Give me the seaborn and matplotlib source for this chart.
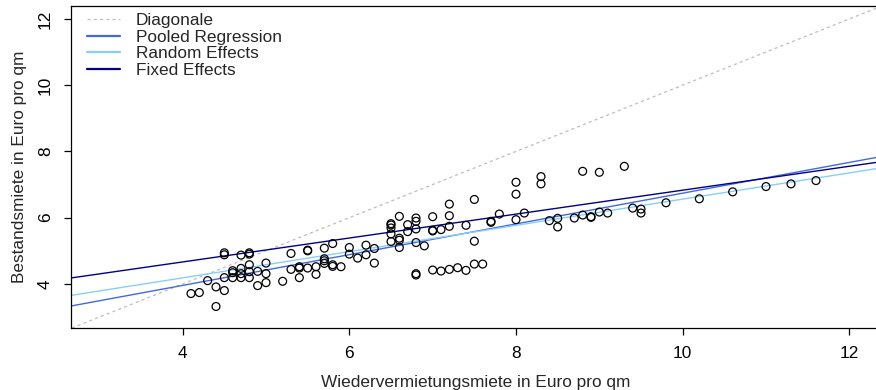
import matplotlib
matplotlib.use("Agg")
import matplotlib.pyplot as plt
import seaborn as sns
import pandas as pd
from matplotlib.lines import Line2D

# --- data -------------------------------------------------------------
wieder = [4.1, 4.2, 4.4, 4.3, 4.4, 4.5, 4.5, 4.5, 4.5,
          4.6, 4.6, 4.6, 4.7, 4.7, 4.7, 4.7,
          4.8, 4.8, 4.8, 4.8, 4.8,
          4.9, 4.9, 5.0, 5.0, 5.0,
          5.2, 5.3, 5.3, 5.4, 5.4, 5.4,
          5.5, 5.5, 5.5, 5.6, 5.6,
          5.7, 5.7, 5.7, 5.7, 5.8, 5.8, 5.8, 5.9,
          6.0, 6.0, 6.1, 6.2, 6.2, 6.3, 6.3,
          6.5, 6.5, 6.5, 6.5, 6.5,
          6.6, 6.6, 6.6, 6.6,
          6.7, 6.7,
          6.8, 6.8, 6.8, 6.8, 6.8, 6.8,
          6.9, 7.0, 7.0, 7.0, 7.0,
          7.1, 7.1, 7.2, 7.2, 7.2, 7.2,
          7.3, 7.4, 7.4, 7.5, 7.5, 7.5, 7.6,
          7.7, 7.7, 7.8, 8.0, 8.0, 8.0, 8.1,
          8.3, 8.3, 8.4, 8.5, 8.5, 8.7, 8.8, 8.8,
          8.9, 8.9, 9.0, 9.0, 9.1, 9.3, 9.4, 9.5, 9.5,
          9.8, 10.2, 10.6, 11.0, 11.3, 11.6]
bestand = [3.71, 3.74, 3.32, 4.10, 3.91, 3.80, 4.19, 4.88, 4.94,
           4.19, 4.34, 4.40, 4.19, 4.31, 4.47, 4.87,
           4.19, 4.37, 4.58, 4.90, 4.94,
           3.95, 4.38, 4.04, 4.31, 4.63,
           4.08, 4.92, 4.44, 4.48, 4.52, 4.19,
           5.00, 5.02, 4.48, 4.52, 4.29,
           5.08, 4.76, 4.70, 4.62, 5.22, 4.58, 4.53, 4.52,
           5.10, 4.90, 4.78, 5.17, 4.88, 5.07, 4.63,
           5.82, 5.78, 5.69, 5.51, 5.28,
           6.04, 5.38, 5.32, 5.10,
           5.79, 5.58,
           5.99, 5.89, 5.66, 5.25, 4.31, 4.27,
           5.15, 6.03, 5.62, 5.60, 4.42,
           5.64, 4.39, 6.41, 6.06, 5.74, 4.44,
           4.49, 5.77, 4.41, 6.55, 5.29, 4.60, 4.60,
           5.89, 5.86, 6.11, 7.07, 6.71, 5.94, 6.14,
           7.24, 7.02, 5.91, 5.98, 5.72, 5.99, 7.40, 6.08,
           6.01, 6.03, 7.37, 6.17, 6.14, 7.55, 6.29, 6.26, 6.14,
           6.45, 6.57, 6.78, 6.94, 7.02, 7.12]

model_names = ["Pooled Regression", "Random Effects", "Fixed Effects"]
intercepts = [2.10, 2.60, 3.22]
slopes = [0.464, 0.396, 0.361]
model_colors = ["#4169E1", "#87CEFA", "#00008B"]

x_ticks = [4, 6, 8, 10, 12]
y_ticks = [4, 6, 8, 10, 12]
x_label = "Wiedervermietungsmiete in Euro pro qm"
y_label = "Bestandsmiete in Euro pro qm"

# --- plot -------------------------------------------------------------
sns.set_theme(style="white")
plt.rcParams["font.family"] = ["Liberation Sans", "DejaVu Sans"]

FS = 12.4

fig = plt.figure(figsize=(8.76, 3.90), dpi=100)
W, H = 876, 390
ax = fig.add_axes([71 / W, (H - 328) / H, (881 - 71) / W, (328 - 6) / H])

df = pd.DataFrame({"x": wieder, "y": bestand})
sns.scatterplot(data=df, x="x", y="y", ax=ax, marker="o", s=32,
                facecolors="none", edgecolor="black", linewidth=0.9,
                zorder=3, legend=False)

ax.set_xlim(2.66, 12.38)
ax.set_ylim(2.67, 12.39)

ax.axline((0, 0), slope=1, color="#BEBEBE", lw=0.9,
          linestyle=(0, (2.5, 2.5)), zorder=1)
handles = [Line2D([], [], color="#BEBEBE", lw=0.9, linestyle=(0, (2.5, 2.5)))]
for name, a, b, c in zip(model_names, intercepts, slopes, model_colors):
    ax.axline((0, a), slope=b, color=c, lw=1.0, zorder=2)
    handles.append(Line2D([], [], color=c, lw=1.6))

labels = ["Diagonale"] + model_names
ax.legend(handles, labels, loc="upper left",
          bbox_to_anchor=(16 / 810, 1 - 7 / 322), frameon=False,
          fontsize=FS, borderpad=0, borderaxespad=0, labelspacing=0.09,
          handlelength=1.9, handletextpad=0.95)

ax.set_xticks(x_ticks)
ax.set_yticks(y_ticks)
ax.set_xticklabels([str(t) for t in x_ticks])
ax.set_yticklabels([str(t) for t in y_ticks], rotation=90, va="center")
ax.tick_params(axis="both", direction="out", length=5, width=0.9,
               color="black", labelsize=FS, labelcolor="black",
               bottom=True, left=True, pad=8)
ax.tick_params(axis="y", pad=8)
for sp in ax.spines.values():
    sp.set_visible(True)
    sp.set_color("black")
    sp.set_linewidth(0.9)

ax.set_xlabel(x_label, fontsize=FS, labelpad=10)
ax.set_ylabel(y_label, fontsize=FS, labelpad=8)

fig.savefig("out.png", dpi=100)
